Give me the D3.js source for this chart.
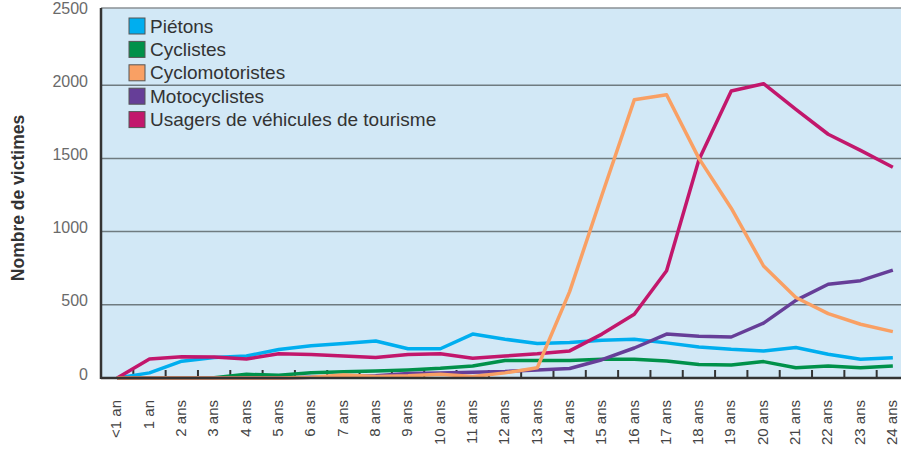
<!DOCTYPE html>
<html>
<head>
<meta charset="utf-8">
<script src="https://cdn.jsdelivr.net/npm/d3@7"></script>
<style>
  html, body { margin: 0; padding: 0; background: #fff; }
  svg { display: block; font-family: 'Liberation Sans', Arial, sans-serif; }
</style>
</head>
<body>
<svg id="chart" width="901" height="454"></svg>
<script>
const ages = ['<1 an', '1 an', '2 ans', '3 ans', '4 ans', '5 ans', '6 ans', '7 ans', '8 ans', '9 ans',
  '10 ans', '11 ans', '12 ans', '13 ans', '14 ans', '15 ans', '16 ans', '17 ans', '18 ans', '19 ans',
  '20 ans', '21 ans', '22 ans', '23 ans', '24 ans'];
const yTicks = [0, 500, 1000, 1500, 2000, 2500];

const pietons = [0, 35, 115, 140, 150, 195, 220, 235, 253, 200, 200, 300, 265, 235, 242, 258, 265, 240, 212, 196, 185, 208, 162, 128, 139];
const cyclistes = [0, 0, 0, 2, 25, 18, 36, 43, 48, 55, 66, 82, 120, 120, 120, 128, 128, 116, 93, 89, 112, 70, 82, 70, 82];
const cyclomotoristes = [0, 0, 0, 0, 0, 0, 5, 20, 10, 15, 25, 10, 35, 70, 590, 1250, 1900, 1935, 1500, 1160, 765, 550, 440, 367, 317];
const motocyclistes = [0, 0, 0, 0, 0, 0, 5, 10, 15, 30, 35, 40, 45, 55, 65, 125, 205, 300, 285, 280, 375, 530, 640, 665, 737];
const tourisme = [0, 130, 145, 143, 130, 165, 160, 150, 140, 160, 165, 135, 150, 165, 185, 300, 435, 733, 1490, 1960, 2010, 1835, 1665, 1555, 1440];

const seriesNames = ['Piétons', 'Cyclistes', 'Cyclomotoristes', 'Motocyclistes', 'Usagers de véhicules de tourisme'];
const seriesColors = ['#00aeef', '#00914a', '#f9a064', '#663e98', '#c2176c'];
const seriesValues = [pietons, cyclistes, cyclomotoristes, motocyclistes, tourisme];
const drawOrder = [0, 1, 3, 4, 2];

const svg = d3.select('#chart');
const plotLeft = 101, plotRight = 909, plotTop = 8, plotBottom = 378;

const x = d3.scaleBand().domain(ages).range([plotLeft, plotRight]);
const y = d3.scaleLinear().domain([0, 2500]).range([plotBottom, 12]);

// plot background
svg.append('rect')
  .attr('x', plotLeft).attr('y', plotTop)
  .attr('width', plotRight - plotLeft).attr('height', plotBottom - plotTop)
  .attr('fill', '#d2e8f6');

svg.append('line')
  .attr('x1', plotLeft).attr('x2', plotRight)
  .attr('y1', plotTop).attr('y2', plotTop)
  .attr('stroke', '#8a9094').attr('stroke-width', 1.5);

// grid
svg.append('g')
  .selectAll('line')
  .data(yTicks.filter(d => d > 0 && d < 2500))
  .enter()
  .append('line')
  .attr('x1', plotLeft).attr('x2', plotRight)
  .attr('y1', d => y(d)).attr('y2', d => y(d))
  .attr('stroke', '#6f7b80').attr('stroke-width', 1.5);

// ticks between categories
svg.append('g')
  .selectAll('line')
  .data(ages.slice(1))
  .enter()
  .append('line')
  .attr('x1', d => x(d)).attr('x2', d => x(d))
  .attr('y1', plotBottom).attr('y2', plotBottom - 8)
  .attr('stroke', '#333').attr('stroke-width', 2);

// series lines
const line = d3.line()
  .x((d, i) => x(ages[i]) + x.bandwidth() / 2)
  .y(d => y(d));

drawOrder.forEach(k => {
  svg.append('path')
    .datum(seriesValues[k])
    .attr('fill', 'none')
    .attr('stroke', seriesColors[k])
    .attr('stroke-width', 3.5)
    .attr('stroke-linejoin', 'round')
    .attr('d', line);
});

// axes
svg.append('line')
  .attr('x1', plotLeft).attr('x2', plotRight)
  .attr('y1', plotBottom).attr('y2', plotBottom)
  .attr('stroke', '#333').attr('stroke-width', 2.5);
svg.append('line')
  .attr('x1', plotLeft).attr('x2', plotLeft)
  .attr('y1', plotTop).attr('y2', plotBottom + 1)
  .attr('stroke', '#333').attr('stroke-width', 2.5);

// y tick labels
svg.append('g')
  .selectAll('text')
  .data(yTicks)
  .enter()
  .append('text')
  .attr('x', 88)
  .attr('y', d => y(d) - 4)
  .attr('dy', '0.35em')
  .attr('text-anchor', 'end')
  .attr('font-size', 16)
  .attr('fill', '#6a6a6a')
  .text(d => d);

// x labels
svg.append('g')
  .selectAll('text')
  .data(ages)
  .enter()
  .append('text')
  .attr('transform', d => `translate(${x(d) + x.bandwidth() / 2 - 1}, 400) rotate(-90)`)
  .attr('dy', '0.35em')
  .attr('text-anchor', 'end')
  .attr('font-size', 15)
  .attr('fill', '#444')
  .text(d => d);

// y axis title
svg.append('text')
  .attr('transform', 'translate(18, 198) rotate(-90)')
  .attr('dy', '0.35em')
  .attr('text-anchor', 'middle')
  .attr('font-size', 17.5)
  .attr('font-weight', 'bold')
  .attr('fill', '#333')
  .text('Nombre de victimes');

// legend
const legend = svg.append('g')
  .selectAll('g')
  .data(seriesNames)
  .enter()
  .append('g')
  .attr('transform', (d, i) => `translate(129, ${26 + i * 23.4})`);

legend.append('rect')
  .attr('x', 0).attr('y', -8)
  .attr('width', 16).attr('height', 16)
  .attr('fill', (d, i) => seriesColors[i])
  .attr('stroke', '#555').attr('stroke-width', 1);

legend.append('text')
  .attr('x', 21)
  .attr('dy', '0.35em')
  .attr('font-size', 19)
  .attr('fill', '#333')
  .text(d => d);
</script>
</body>
</html>
